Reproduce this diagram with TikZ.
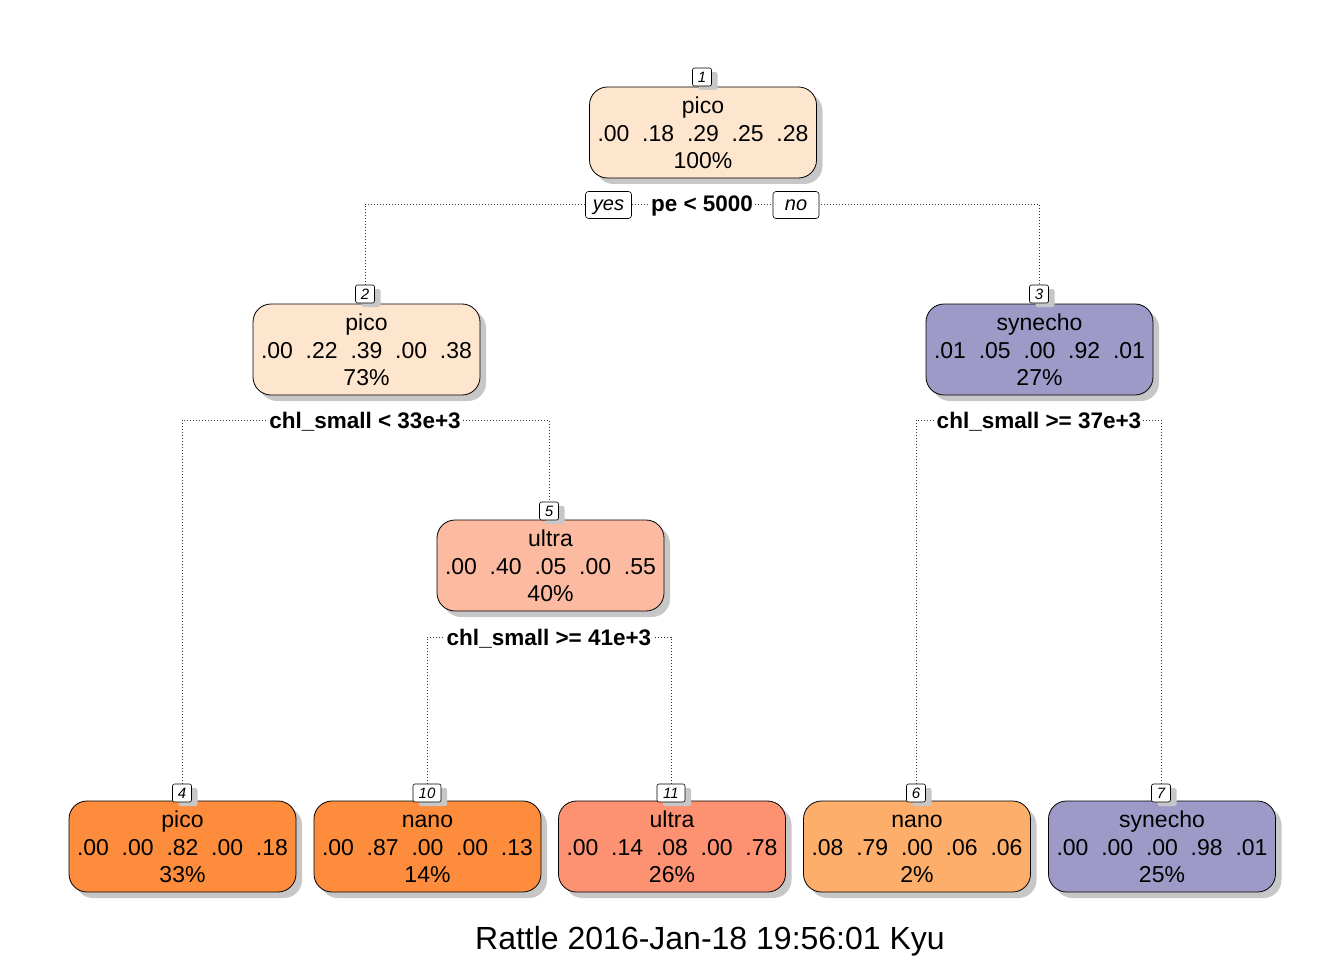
\documentclass[tikz,border=0pt]{standalone}
\usepackage{fontspec}
\setmainfont{Liberation Sans}
\usetikzlibrary{shadows}
\pgfdeclarelayer{background}
\pgfsetlayers{background,main}
\definecolor{cpeach}{HTML}{FEE6CE}
\definecolor{cpurple}{HTML}{9E9AC8}
\definecolor{csalmonlt}{HTML}{FCBBA1}
\definecolor{corange}{HTML}{FD8D3C}
\definecolor{csalmon}{HTML}{FC9272}
\definecolor{corangelt}{HTML}{FDAE6B}
\tikzset{
  treenode/.style={draw=black, line width=0.8pt, rounded corners=18pt,
    minimum width=227pt, minimum height=91pt, align=center, inner sep=0pt,
    font=\fontsize{23}{27.5}\selectfont,
    drop shadow={shadow xshift=6pt, shadow yshift=-6pt, fill=black!22, opacity=1}},
  numlab/.style={draw=black, line width=0.6pt, rounded corners=2pt, fill=white,
    minimum width=19pt, minimum height=18pt, inner sep=1pt,
    font=\fontsize{15}{15}\selectfont\itshape,
    drop shadow={shadow xshift=6pt, shadow yshift=-4pt, fill=black!22, opacity=1}},
  splitlab/.style={fill=white, inner xsep=2pt, inner ysep=1pt, text height=16pt, text depth=0pt,
    font=\fontsize{22.5}{22.5}\selectfont\bfseries},
  yesno/.style={draw=black, line width=0.6pt, rounded corners=3pt, fill=white,
    minimum width=46pt, minimum height=27pt, inner sep=1pt, text height=15pt, text depth=3pt,
    font=\fontsize{20}{20}\selectfont\itshape},
  conn/.style={draw=black!80, line width=0.8pt, dash pattern=on 1pt off 2pt}
}
\newcommand{\gapsp}{\ \ }
\newcommand{\lnstrut}{\rule[-4.6pt]{0pt}{26.6pt}}
\newcommand{\nodetxt}[3]{\lnstrut#1\\\lnstrut#2\\\lnstrut#3}
\begin{document}
\begin{tikzpicture}[x=1pt,y=-1pt]
\useasboundingbox (0,0) rectangle (1344,960);

% nodes
\node[treenode, fill=cpeach] (n1) at (703,132.5) {\nodetxt{pico}{.00\gapsp.18\gapsp.29\gapsp.25\gapsp.28}{100\%}};
\node[numlab] (l1) at (702,77) {1};
\node[splitlab] (s1) at (702,204) {pe < 5000};
\node[yesno] (yes) at (608.5,205) {yes};
\node[yesno] (no) at (796,205) {no};

\node[treenode, fill=cpeach] (n2) at (366.5,349.5) {\nodetxt{pico}{.00\gapsp.22\gapsp.39\gapsp.00\gapsp.38}{73\%}};
\node[numlab] (l2) at (365,294) {2};
\node[splitlab] (s2) at (365,420) {chl\_small < 33e+3};

\node[treenode, fill=cpurple] (n3) at (1039.5,349.5) {\nodetxt{synecho}{.01\gapsp.05\gapsp.00\gapsp.92\gapsp.01}{27\%}};
\node[numlab] (l3) at (1039,294) {3};
\node[splitlab] (s3) at (1039,420) {chl\_small >= 37e+3};

\node[treenode, fill=csalmonlt] (n5) at (550.5,565.5) {\nodetxt{ultra}{.00\gapsp.40\gapsp.05\gapsp.00\gapsp.55}{40\%}};
\node[numlab] (l5) at (549,511) {5};
\node[splitlab] (s5) at (549,637) {chl\_small >= 41e+3};

\node[treenode, fill=corange] (n4) at (182.5,846.5) {\nodetxt{pico}{.00\gapsp.00\gapsp.82\gapsp.00\gapsp.18}{33\%}};
\node[numlab] (l4) at (182,793) {4};
\node[treenode, fill=corange] (n10) at (427.5,846.5) {\nodetxt{nano}{.00\gapsp.87\gapsp.00\gapsp.00\gapsp.13}{14\%}};
\node[numlab, minimum width=28pt] (l10) at (427,793) {10};
\node[treenode, fill=csalmon] (n11) at (672,846.5) {\nodetxt{ultra}{.00\gapsp.14\gapsp.08\gapsp.00\gapsp.78}{26\%}};
\node[numlab, minimum width=28pt] (l11) at (671,793) {11};
\node[treenode, fill=corangelt] (n6) at (917,846.5) {\nodetxt{nano}{.08\gapsp.79\gapsp.00\gapsp.06\gapsp.06}{2\%}};
\node[numlab] (l6) at (916,793) {6};
\node[treenode, fill=cpurple] (n7) at (1162,846.5) {\nodetxt{synecho}{.00\gapsp.00\gapsp.00\gapsp.98\gapsp.01}{25\%}};
\node[numlab] (l7) at (1161,793) {7};

\node[font=\fontsize{32}{32}\selectfont] (cap) at (710,941) {Rattle 2016-Jan-18 19:56:01 Kyu};

% connectors
\begin{pgfonlayer}{background}
\draw[conn] (l2.north) |- (s1.center) -| (l3.north);
\draw[conn] (l4.north) |- (s2.center) -| (l5.north);
\draw[conn] (l6.north) |- (s3.center) -| (l7.north);
\draw[conn] (l10.north) |- (s5.center) -| (l11.north);
\end{pgfonlayer}
\end{tikzpicture}
\end{document}
